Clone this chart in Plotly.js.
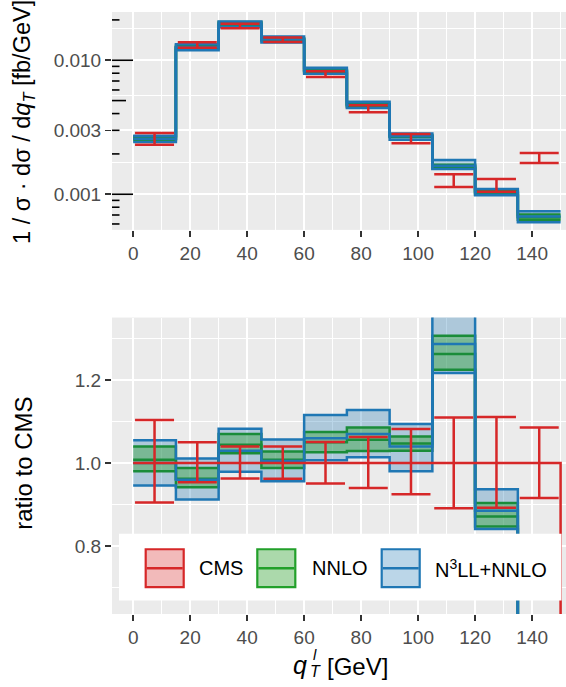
<!DOCTYPE html>
<html>
<head>
<meta charset="utf-8">
<script src="https://cdn.plot.ly/plotly-3.0.1.min.js"></script>
<style>html,body{margin:0;padding:0;background:#fff;}#chart{width:566px;height:687px;}</style>
</head>
<body>
<div id="chart"></div>
<script>
// ---- data ----
const binEdges = [0, 15, 30, 45, 60, 75, 90, 105, 120, 135, 150];
const xTickVals = [0, 20, 40, 60, 80, 100, 120, 140];
const topTickVals = [0.001, 0.003, 0.01];
const topTickText = ['0.001', '0.003', '0.010'];
const ratioTickVals = [0.8, 1.0, 1.2];
const ratioTickText = ['0.8', '1.0', '1.2'];

// CMS normalised cross section and relative uncertainty bounds
const cmsValue = [0.00259, 0.0130, 0.0180, 0.0142, 0.00788, 0.00435, 0.00260, 0.00127, 0.00117, 0.00187];
const cmsRelUp = [1.104, 1.050, 1.040, 1.040, 1.051, 1.063, 1.082, 1.110, 1.111, 1.086];
const cmsRelDn = [0.905, 0.954, 0.963, 0.962, 0.951, 0.940, 0.925, 0.891, 0.892, 0.916];
const cmsRatioTail = 0; // no CMS data beyond the last bin

// theory / CMS ratios
const nnloLo  = [0.980, 0.942, 1.024, 0.988, 1.026, 1.029, 1.030, 1.225, 0.847, 0.345];
const nnloMid = [1.008, 0.962, 1.044, 1.008, 1.050, 1.056, 1.047, 1.263, 0.871, 0.360];
const nnloHi  = [1.040, 0.988, 1.070, 1.028, 1.075, 1.086, 1.064, 1.307, 0.904, 0.378];
const n3llLo  = [0.946, 0.912, 0.979, 0.956, 1.007, 1.014, 0.980, 1.217, 0.841, 0.330];
const n3llMid = [1.000, 0.960, 1.030, 1.005, 1.060, 1.070, 1.040, 1.287, 0.885, 0.365];
const n3llHi  = [1.055, 1.011, 1.083, 1.057, 1.116, 1.128, 1.094, 1.420, 0.937, 0.400];

// ---- styles ----
const RED = '#d62728', GREEN = '#1a8c3a', BLUE = '#1f77b4';
const RED_FILL = 'rgba(214,39,40,0.32)', GREEN_FILL = 'rgba(44,160,44,0.40)', BLUE_FILL = 'rgba(31,119,180,0.30)';
const FONT = 'Liberation Sans, Arial, Helvetica, sans-serif';

const centers = binEdges.slice(0, -1).map((e, i) => (e + binEdges[i + 1]) / 2);
const stepY = (vals, tail) => vals.concat([tail === undefined ? vals[vals.length - 1] : tail]);
const times = (a, b) => a.map((v, i) => v * b[i]);

function bandFill(lo, hi, fill, xa, ya) {
  const base = {x: binEdges, type: 'scatter', mode: 'lines', xaxis: xa, yaxis: ya, hoverinfo: 'skip', showlegend: false};
  return [
    Object.assign({}, base, {y: stepY(lo), line: {color: 'rgba(0,0,0,0)', width: 0, shape: 'hv'}}),
    Object.assign({}, base, {y: stepY(hi), line: {color: 'rgba(0,0,0,0)', width: 0, shape: 'hv'}, fill: 'tonexty', fillcolor: fill})
  ];
}
function bandLines(lo, mid, hi, color, xa, ya) {
  return [lo, hi, mid].map(v => ({x: binEdges, y: stepY(v), type: 'scatter', mode: 'lines', xaxis: xa, yaxis: ya,
    hoverinfo: 'skip', showlegend: false, line: {color: color, width: 2.5, shape: 'hv'}}));
}

const traces = [];
// top panel: absolute values
const tN3 = [times(n3llLo, cmsValue), times(n3llMid, cmsValue), times(n3llHi, cmsValue)];
const tNN = [times(nnloLo, cmsValue), times(nnloMid, cmsValue), times(nnloHi, cmsValue)];
traces.push(...bandFill(tN3[0], tN3[2], BLUE_FILL, 'x', 'y'));
traces.push(...bandFill(tNN[0], tNN[2], GREEN_FILL, 'x', 'y'));
traces.push(...bandLines(tNN[0], tNN[1], tNN[2], GREEN, 'x', 'y'));
traces.push(...bandLines(tN3[0], tN3[1], tN3[2], BLUE, 'x', 'y'));
traces.push({
  x: centers, y: cmsValue, type: 'scatter', mode: 'markers', xaxis: 'x', yaxis: 'y', showlegend: false,
  marker: {size: 1, color: 'rgba(0,0,0,0)'},
  error_y: {type: 'data', symmetric: false,
    array: cmsValue.map((v, i) => v * (cmsRelUp[i] - 1)),
    arrayminus: cmsValue.map((v, i) => v * (1 - cmsRelDn[i])),
    color: RED, thickness: 2.5, width: 19.5}
});
// bottom panel: ratio to CMS
traces.push(...bandFill(n3llLo, n3llHi, BLUE_FILL, 'x2', 'y2'));
traces.push(...bandFill(nnloLo, nnloHi, GREEN_FILL, 'x2', 'y2'));
traces.push(...bandLines(nnloLo, nnloMid, nnloHi, GREEN, 'x2', 'y2'));
traces.push(...bandLines(n3llLo, n3llMid, n3llHi, BLUE, 'x2', 'y2'));
const cmsRatio = cmsValue.map(v => v / v);
traces.push({x: binEdges, y: stepY(cmsRatio, cmsRatioTail), type: 'scatter', mode: 'lines', xaxis: 'x2', yaxis: 'y2',
  showlegend: false, line: {color: RED, width: 2.5, shape: 'hv'}});
traces.push({
  x: centers, y: cmsRatio, type: 'scatter', mode: 'markers', xaxis: 'x2', yaxis: 'y2', showlegend: false,
  marker: {size: 1, color: 'rgba(0,0,0,0)'},
  error_y: {type: 'data', symmetric: false,
    array: cmsRelUp.map(v => v - 1), arrayminus: cmsRelDn.map(v => 1 - v),
    color: RED, thickness: 2.5, width: 19.5}
});

// ---- layout geometry ----
const W = 566, H = 687, ML = 112, MR = 0, MT = 12, MB = 72.7;
const PW = W - ML - MR, PH = H - MT - MB;
const px2x = p => (p - ML) / PW;
const px2y = p => (H - MB - p) / PH;

const xRange = [-7.43, 151.9];
const axisCommon = {
  showgrid: true, gridcolor: '#ffffff', gridwidth: 2, zeroline: false, showline: false,
  ticks: 'outside', ticklen: 6, tickwidth: 1.6, tickcolor: '#333333',
  tickfont: {family: FONT, size: 19, color: '#4D4D4D'}
};
const xAxis = (anchor) => Object.assign({}, axisCommon, {
  range: xRange, anchor: anchor, tickmode: 'array', tickvals: xTickVals,
  minor: {dtick: 10, tick0: 0, showgrid: true, gridcolor: '#ffffff', gridwidth: 1.1, ticks: ''}
});
const topMajor = [0.0003, 0.001, 0.003, 0.01, 0.03];
const topMinor = topMajor.slice(0, -1).map((v, i) => Math.sqrt(v * topMajor[i + 1]));

const shapes = [];
// log ticks along left side of top panel
for (let d = -4; d <= -1; d++) {
  for (let k = 1; k <= 9; k++) {
    const v = k * Math.pow(10, d);
    if (v < 0.00054 || v > 0.0229) continue;
    const len = k === 1 ? 21 : (k === 5 ? 14 : 7.5);
    shapes.push({type: 'line', xref: 'x domain', yref: 'y', x0: 0, x1: len / PW, y0: v, y1: v,
      line: {color: '#000000', width: 1.6}, layer: 'above'});
  }
}
// legend box (drawn manually, ggplot style, inside lower panel)
shapes.push({type: 'rect', xref: 'paper', yref: 'paper', x0: px2x(119), x1: px2x(561.5), y0: px2y(600.7), y1: px2y(534),
  fillcolor: '#ffffff', line: {width: 0}, layer: 'above'});
const keys = [
  {x0: 145.7, color: RED, fill: RED_FILL, label: 'CMS', tx: 197},
  {x0: 257.3, color: '#22a02a', fill: GREEN_FILL, label: 'NNLO', tx: 310},
  {x0: 381.7, color: BLUE, fill: BLUE_FILL, label: 'N<sup>3</sup>LL+NNLO', tx: 433}
];
const annotations = [];
keys.forEach(k => {
  shapes.push({type: 'rect', xref: 'paper', yref: 'paper', x0: px2x(k.x0), x1: px2x(k.x0 + 38), y0: px2y(587.5), y1: px2y(549.5),
    fillcolor: k.fill, line: {color: k.color, width: 2.2}, layer: 'above'});
  shapes.push({type: 'line', xref: 'paper', yref: 'paper', x0: px2x(k.x0 + 1), x1: px2x(k.x0 + 37), y0: px2y(568.5), y1: px2y(568.5),
    line: {color: k.color, width: 2.4}, layer: 'above'});
  annotations.push({xref: 'paper', yref: 'paper', x: px2x(k.tx), y: px2y(568.5), xanchor: 'left', yanchor: 'middle',
    text: k.label, showarrow: false, font: {family: FONT, size: 20, color: '#000000'}});
});
// axis titles
annotations.push({xref: 'paper', yref: 'paper', x: px2x(24), y: px2y(122), xanchor: 'center', yanchor: 'middle', textangle: -90,
  text: '1 / σ · dσ / d<i>q</i><sub><i>T</i></sub> [fb/GeV]', showarrow: false, font: {family: FONT, size: 23.5, color: '#000000'}});
annotations.push({xref: 'paper', yref: 'paper', x: px2x(24), y: px2y(464), xanchor: 'center', yanchor: 'middle', textangle: -90,
  text: 'ratio to CMS', showarrow: false, font: {family: FONT, size: 24, color: '#000000'}});
annotations.push({xref: 'paper', yref: 'paper', x: px2x(300), y: px2y(665), xanchor: 'center', yanchor: 'middle',
  text: '<i>q</i>', showarrow: false, font: {family: FONT, size: 25, color: '#000000'}});
annotations.push({xref: 'paper', yref: 'paper', x: px2x(315), y: px2y(655), xanchor: 'center', yanchor: 'middle',
  text: '<i>l</i>', showarrow: false, font: {family: FONT, size: 15, color: '#000000'}});
annotations.push({xref: 'paper', yref: 'paper', x: px2x(315), y: px2y(672), xanchor: 'center', yanchor: 'middle',
  text: '<i>T</i>', showarrow: false, font: {family: FONT, size: 16, color: '#000000'}});
annotations.push({xref: 'paper', yref: 'paper', x: px2x(325), y: px2y(667), xanchor: 'left', yanchor: 'middle',
  text: '[GeV]', showarrow: false, font: {family: FONT, size: 24, color: '#000000'}});

const layout = {
  width: W, height: H, margin: {l: ML, r: MR, t: MT, b: MB, pad: 0},
  paper_bgcolor: '#ffffff', plot_bgcolor: '#EBEBEB', showlegend: false,
  font: {family: FONT},
  xaxis: xAxis('y'),
  xaxis2: xAxis('y2'),
  yaxis: Object.assign({}, axisCommon, {
    type: 'log', domain: [px2y(230), 1], range: [-3.266, -1.640], anchor: 'x',
    tickmode: 'array', tickvals: topTickVals, ticktext: topTickText,
    minor: {tickmode: 'array', tickvals: topMinor, showgrid: true, gridcolor: '#ffffff', gridwidth: 1.1, ticks: ''}
  }),
  yaxis2: Object.assign({}, axisCommon, {
    domain: [0, px2y(317.7)], range: [0.636, 1.351], anchor: 'x2',
    tickmode: 'array', tickvals: ratioTickVals, ticktext: ratioTickText,
    minor: {tickmode: 'array', tickvals: [0.7, 0.9, 1.1, 1.3], showgrid: true, gridcolor: '#ffffff', gridwidth: 1.1, ticks: ''}
  }),
  shapes: shapes,
  annotations: annotations
};

Plotly.newPlot('chart', traces, layout, {displayModeBar: false, staticPlot: true});
</script>
</body>
</html>
